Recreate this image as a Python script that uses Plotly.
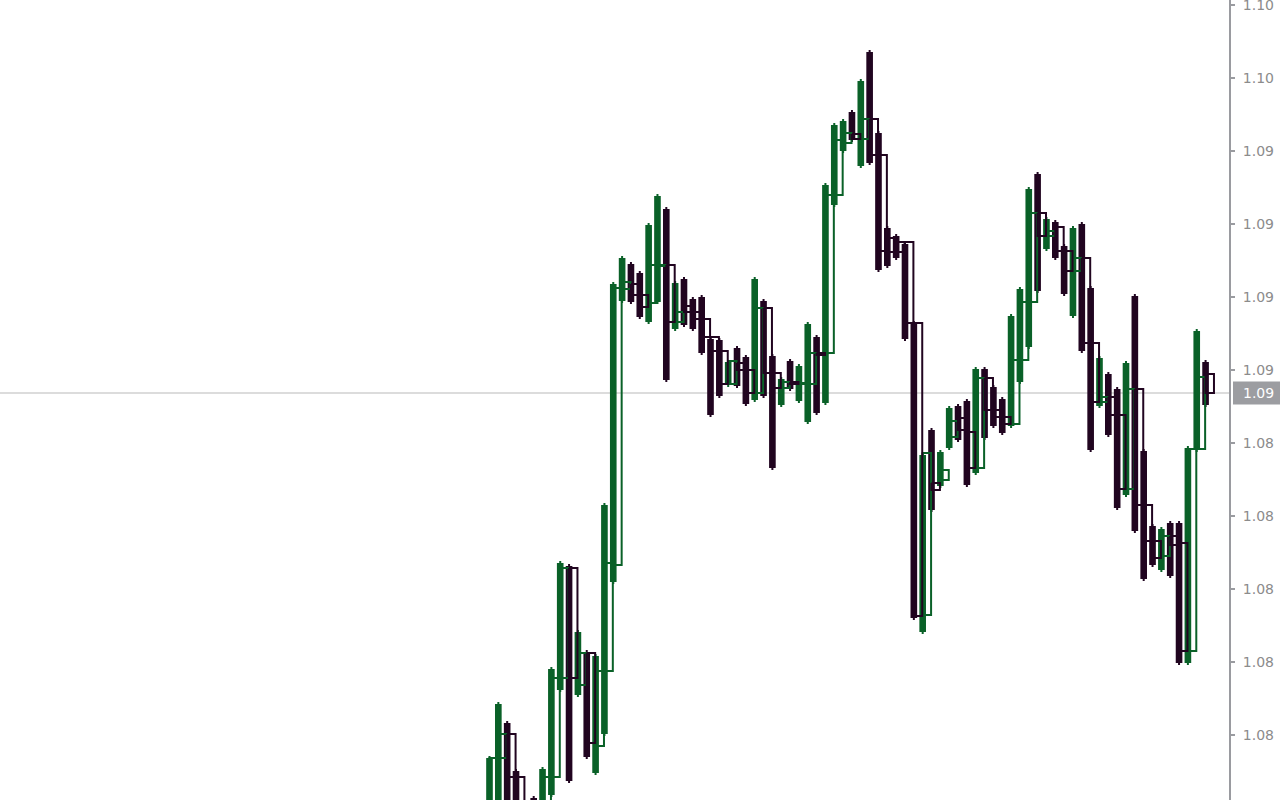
import plotly.graph_objects as go

# ---- data (EUR/USD-like price bars) ----
high = [1.07994, 1.08156, 1.08099, 1.07955, 1.07847, 1.07874, 1.07961, 1.08261, 1.08579, 1.08570,
        1.08372, 1.08312, 1.08300, 1.08753, 1.09416, 1.09494, 1.09476, 1.09449, 1.09593, 1.09680,
        1.09641, 1.09419, 1.09431, 1.09371, 1.09377, 1.09251, 1.09248, 1.09182, 1.09224, 1.09197,
        1.09431, 1.09365, 1.09200, 1.09131, 1.09185, 1.09170, 1.09296, 1.09257, 1.09713, 1.09893,
        1.09905, 1.09932, 1.10025, 1.10112, 1.09869, 1.09584, 1.09560, 1.09536, 1.09299, 1.08903,
        1.08978, 1.08912, 1.09044, 1.09050, 1.09065, 1.09161, 1.09161, 1.09107, 1.09071, 1.09320,
        1.09401, 1.09701, 1.09746, 1.09611, 1.09602, 1.09530, 1.09584, 1.09596, 1.09404, 1.09194,
        1.09146, 1.09101, 1.09179, 1.09380, 1.08915, 1.08690, 1.08681, 1.08699, 1.08699, 1.08924,
        1.09275, 1.09182]

low = [1.07772, 1.07826, 1.07817, 1.07772, 1.07727, 1.07742, 1.07772, 1.07871, 1.08186, 1.07913,
       1.08171, 1.07985, 1.07937, 1.08054, 1.08510, 1.09353, 1.09350, 1.09305, 1.09290, 1.09350,
       1.09116, 1.09269, 1.09281, 1.09269, 1.09197, 1.09011, 1.09068, 1.09101, 1.09098, 1.09044,
       1.09056, 1.09068, 1.08852, 1.09041, 1.09089, 1.09053, 1.08990, 1.09017, 1.09047, 1.09641,
       1.09803, 1.09836, 1.09758, 1.09767, 1.09446, 1.09458, 1.09482, 1.09239, 1.08402, 1.08360,
       1.08726, 1.08798, 1.08912, 1.08936, 1.08801, 1.08837, 1.08942, 1.08978, 1.08957, 1.08978,
       1.09110, 1.09215, 1.09383, 1.09509, 1.09482, 1.09374, 1.09308, 1.09203, 1.08906, 1.09038,
       1.08951, 1.08732, 1.08771, 1.08663, 1.08519, 1.08561, 1.08546, 1.08528, 1.08267, 1.08267,
       1.08906, 1.09041]

open_ = [1.07817, 1.07988, 1.08060, 1.07931, 1.07838, 1.07847, 1.07817, 1.07931, 1.08228, 1.08558,
         1.08207, 1.08303, 1.08024, 1.08249, 1.08567, 1.09395, 1.09410, 1.09377, 1.09353, 1.09464,
         1.09467, 1.09296, 1.09344, 1.09326, 1.09305, 1.09251, 1.09209, 1.09110, 1.09173, 1.09152,
         1.09083, 1.09338, 1.09143, 1.09098, 1.09116, 1.09110, 1.09110, 1.09203, 1.09203, 1.09677,
         1.09833, 1.09860, 1.09845, 1.09905, 1.09797, 1.09548, 1.09536, 1.09536, 1.09293, 1.08417,
         1.08813, 1.08822, 1.08951, 1.09008, 1.08966, 1.08858, 1.09128, 1.09032, 1.09011, 1.08990,
         1.09182, 1.09356, 1.09623, 1.09554, 1.09581, 1.09509, 1.09449, 1.09488, 1.09233, 1.09056,
         1.09071, 1.09017, 1.08795, 1.09095, 1.08747, 1.08639, 1.08594, 1.08654, 1.08633, 1.08309,
         1.08915, 1.09140]

close = [1.07988, 1.08060, 1.07931, 1.07838, 1.07772, 1.07787, 1.07931, 1.08228, 1.08558, 1.08228,
         1.08303, 1.08033, 1.08249, 1.08573, 1.09398, 1.09416, 1.09377, 1.09341, 1.09467, 1.09467,
         1.09296, 1.09326, 1.09326, 1.09305, 1.09251, 1.09209, 1.09110, 1.09179, 1.09152, 1.09083,
         1.09338, 1.09143, 1.09098, 1.09116, 1.09110, 1.09113, 1.09203, 1.09197, 1.09677, 1.09842,
         1.09863, 1.09845, 1.09905, 1.09797, 1.09509, 1.09506, 1.09506, 1.09293, 1.08414, 1.08903,
         1.08792, 1.08852, 1.08999, 1.08972, 1.08858, 1.09128, 1.09032, 1.09011, 1.08990, 1.09182,
         1.09356, 1.09623, 1.09554, 1.09569, 1.09509, 1.09449, 1.09488, 1.09233, 1.09056, 1.09071,
         1.09017, 1.08795, 1.09095, 1.08747, 1.08639, 1.08588, 1.08654, 1.08627, 1.08309, 1.08915,
         1.09131, 1.09083]

tick_vals = [1.10247, 1.10028, 1.09809, 1.09590, 1.09371, 1.09152,
             1.08933, 1.08714, 1.08495, 1.08276, 1.08057]
tick_text = ["1.10", "1.10", "1.09", "1.09", "1.09", "1.09",
             "1.08", "1.08", "1.08", "1.08", "1.08"]
last_price_text = "1.09"

# ---- style ----
W, H = 1280, 800
M_R = 51
PLOT_W = W - M_R
Y_RANGE = [1.07862, 1.10262]
X_RANGE = [-55.37, 83.65]
UP = "#0A6128"
DOWN = "#210520"
AXIS_GREY = "#9A9BA0"
PX = (Y_RANGE[1] - Y_RANGE[0]) / H   # price per pixel

n = len(close)
xs = list(range(n))
is_up = [c >= o for o, c in zip(open_, close)]

fig = go.Figure()

# thick bars (body of the high-low range)
fig.add_trace(go.Bar(
    x=xs,
    base=[l + 2 * PX for l in low],
    y=[h - l - 4 * PX for h, l in zip(high, low)],
    width=0.75,
    marker=dict(color=[UP if u else DOWN for u in is_up], line=dict(width=0)),
    hoverinfo="skip",
))

# thin wick tips
for flag, col in ((True, UP), (False, DOWN)):
    wx, wy = [], []
    for i in range(n):
        if is_up[i] == flag:
            wx += [i, i, None]
            wy += [low[i], high[i], None]
    fig.add_trace(go.Scatter(x=wx, y=wy, mode="lines",
                             line=dict(color=col, width=2), hoverinfo="skip"))

# open/close boxes drawn to the right of each bar
for flag, col in ((True, UP), (False, DOWN)):
    rx, ry = [], []
    for i in range(n):
        if is_up[i] == flag:
            x0, x1 = i, i + 0.95
            rx += [x0, x1, x1, x0, x0, None]
            ry += [open_[i], open_[i], close[i], close[i], open_[i], None]
    fig.add_trace(go.Scatter(x=rx, y=ry, mode="lines",
                             line=dict(color=col, width=2), hoverinfo="skip"))

# current price line
last = close[-1]
fig.add_shape(type="line", xref="paper", yref="y", x0=0, x1=1, y0=last, y1=last,
              line=dict(color="#DCDCDC", width=2), layer="below")

# current price label box on the scale
yp = (last - Y_RANGE[0]) / (Y_RANGE[1] - Y_RANGE[0])
half = 11.5 / H
fig.add_shape(type="rect", xref="paper", yref="paper",
              x0=1 + 4 / PLOT_W, x1=1 + 60 / PLOT_W, y0=yp - half, y1=yp + half,
              fillcolor="#9C9DA1", line=dict(width=0), layer="above")
fig.add_annotation(xref="paper", yref="y", x=1 + 12 / PLOT_W, y=last,
                   xanchor="left", yanchor="middle", showarrow=False,
                   text=last_price_text,
                   font=dict(family="DejaVu Sans", size=14, color="#FFFFFF"))

fig.update_layout(
    width=W, height=H,
    margin=dict(l=0, r=M_R, t=0, b=0, pad=0, autoexpand=False),
    paper_bgcolor="white", plot_bgcolor="white",
    showlegend=False, barmode="overlay", hovermode=False,
    xaxis=dict(range=X_RANGE, visible=False, fixedrange=True, automargin=False),
    yaxis=dict(range=Y_RANGE, side="right", showgrid=False, zeroline=False,
               automargin=False,
               showline=True, linecolor=AXIS_GREY, linewidth=2,
               ticks="outside", ticklen=4, tickwidth=2, tickcolor=AXIS_GREY,
               tickvals=tick_vals, ticktext=tick_text, ticklabelstandoff=5,
               ticklabeloverflow="allow",
               tickfont=dict(family="DejaVu Sans", size=14, color="#8C8C8C"),
               fixedrange=True),
)

fig.write_html("out.html", config={"displayModeBar": False},
               post_script="document.body.style.margin='0';document.body.style.overflow='hidden';")
